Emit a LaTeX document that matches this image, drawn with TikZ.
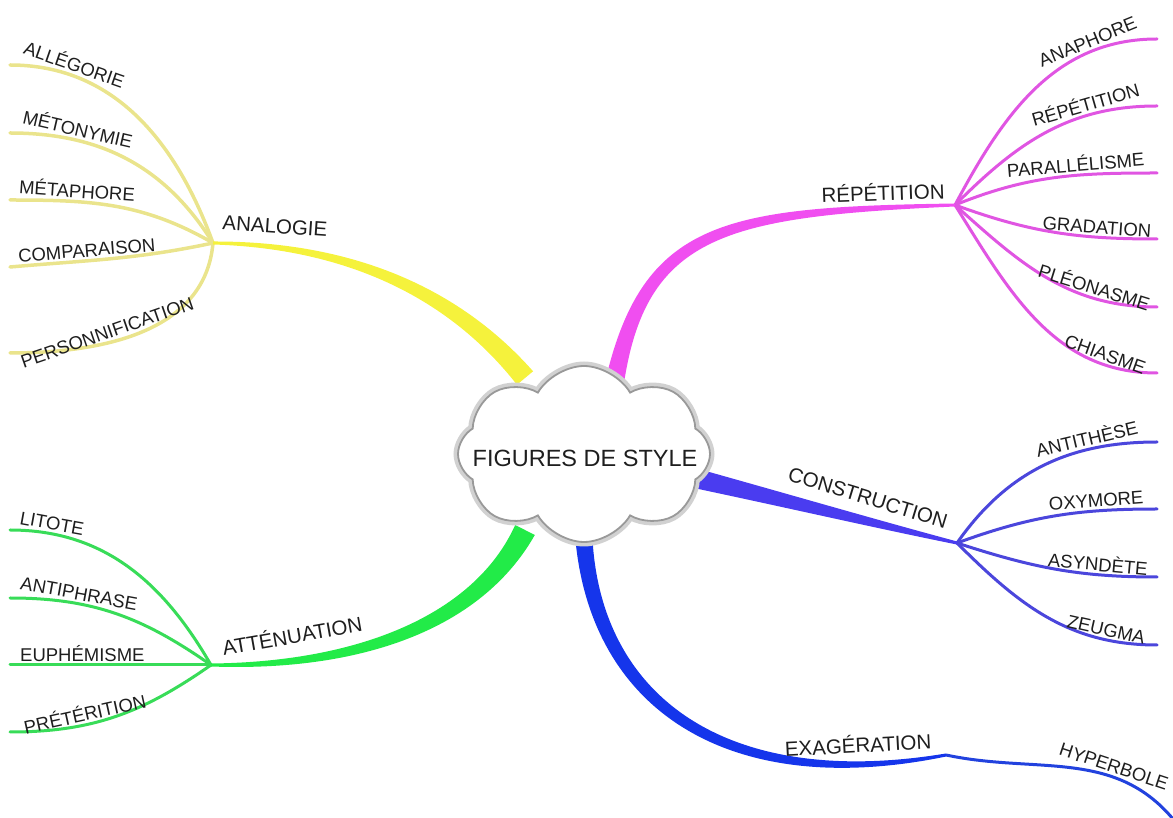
\documentclass[tikz,border=0pt]{standalone}
\usepackage{fontspec}
\setmainfont{Liberation Sans}
\usepackage{xcolor}
\usetikzlibrary{calc,shapes.symbols}

\definecolor{AnaYellow}{HTML}{F5F23C}
\definecolor{AnaLeaf}{HTML}{EAE48C}
\definecolor{RepMagenta}{HTML}{F04EF0}
\definecolor{RepLeaf}{HTML}{E055E2}
\definecolor{ConViolet}{HTML}{4A3CF0}
\definecolor{ConLeaf}{HTML}{4B46DC}
\definecolor{AttGreen}{HTML}{22EB48}
\definecolor{AttLeaf}{HTML}{38DC58}
\definecolor{ExaBlue}{HTML}{1535EB}
\definecolor{ExaLeaf}{HTML}{2242DE}
\definecolor{Ink}{HTML}{1E1E1E}

\begin{document}
\begin{tikzpicture}[x=1pt, y=1pt, line cap=round,
      every node/.append style={text=Ink, inner sep=2pt},
      leaf/.style={line width=3pt},
      word/.style={above, sloped, font=\fontsize{18.5}{18.5}\selectfont},
      branchword/.style={font=\fontsize{20.5}{20.5}\selectfont}]
  \useasboundingbox (0,0) rectangle (1173,817);

  % hubs and branch controls
  \coordinate (analogie) at (213,574);
  \coordinate (ana0) at (525,439); \coordinate (ana1) at (460,517); \coordinate (ana2) at (360,572);
  \coordinate (repetition) at (955,612);
  \coordinate (rep0) at (612,420); \coordinate (rep1) at (640,590); \coordinate (rep2) at (720,605);
  \coordinate (construction) at (957,274);
  \coordinate (con0) at (690,340); \coordinate (con1) at (780,318); \coordinate (con2) at (880,292);
  \coordinate (attenuation) at (211,152);
  \coordinate (att0) at (525,287); \coordinate (att1) at (478,195); \coordinate (att2) at (360,150);
  \coordinate (exageration) at (946,62);
  \coordinate (exa0) at (583,300); \coordinate (exa1) at (585,120); \coordinate (exa2) at (720,20);

  % leaves
  \coordinate (allegorie) at (10,752);
  \coordinate (metonymie) at (10,684);
  \coordinate (metaphore) at (10,617);
  \coordinate (comparaison) at (10,550);
  \coordinate (personnification) at (10,464);
  \draw[leaf, AnaLeaf, line width=3.5pt] (allegorie) to[out=0,in=110] node[word,pos=.21] (allegoriew) {ALLÉGORIE} (analogie);
  \draw[leaf, AnaLeaf, line width=3.5pt] (metonymie) to[out=0,in=122] node[word,pos=.26] (metonymiew) {MÉTONYMIE} (analogie);
  \draw[leaf, AnaLeaf, line width=3.5pt] (metaphore) to[out=0,in=150] node[word,pos=.3] (metaphorew) {MÉTAPHORE} (analogie);
  \draw[leaf, AnaLeaf, line width=3.5pt] (comparaison) to[out=5,in=192] node[word,pos=.37] (comparaisonw) {COMPARAISON} (analogie);
  \draw[leaf, AnaLeaf, line width=3.5pt] (personnification) to[out=0,in=-95] node[word,pos=.37,rotate=5] (personnificationw) {PERSONNIFICATION} (analogie);

  \coordinate (anaphore) at (1157,778);
  \coordinate (repetitionleaf) at (1157,711);
  \coordinate (parallelisme) at (1157,644);
  \coordinate (gradation) at (1157,578);
  \coordinate (pleonasme) at (1157,510);
  \coordinate (chiasme) at (1157,444);
  \draw[leaf, RepLeaf] (repetition) to[out=62,in=180] node[word,pos=.76] (anaphorew) {ANAPHORE} (anaphore);
  \draw[leaf, RepLeaf] (repetition) to[out=45,in=180] node[word,pos=.71] (repetitionleafw) {RÉPÉTITION} (repetitionleaf);
  \draw[leaf, RepLeaf] (repetition) to[out=22,in=180] node[word,pos=.62] (parallelismew) {PARALLÉLISME} (parallelisme);
  \draw[leaf, RepLeaf] (repetition) to[out=-20,in=180] node[word,pos=.72] (gradationw) {GRADATION} (gradation);
  \draw[leaf, RepLeaf] (repetition) to[out=-42,in=180] node[word,pos=.72] (pleonasmew) {PLÉONASME} (pleonasme);
  \draw[leaf, RepLeaf] (repetition) to[out=-58,in=180] node[word,pos=.8] (chiasmew) {CHIASME} (chiasme);

  \coordinate (antithese) at (1157,375);
  \coordinate (oxymore) at (1157,308);
  \coordinate (asyndete) at (1157,240);
  \coordinate (zeugma) at (1157,172);
  \draw[leaf, ConLeaf] (construction) to[out=55,in=180] node[word,pos=.72] (antithesew) {ANTITHÈSE} (antithese);
  \draw[leaf, ConLeaf] (construction) to[out=20,in=180] node[word,pos=.72] (oxymorew) {OXYMORE} (oxymore);
  \draw[leaf, ConLeaf] (construction) to[out=-18,in=180] node[word,pos=.72] (asyndetew) {ASYNDÈTE} (asyndete);
  \draw[leaf, ConLeaf] (construction) to[out=-45,in=180] node[word,pos=.78] (zeugmaw) {ZEUGMA} (zeugma);

  \coordinate (litote) at (10,287);
  \coordinate (antiphrase) at (10,219);
  \coordinate (euphemisme) at (10,152);
  \coordinate (preterition) at (10,85);
  \draw[leaf, AttLeaf] (litote) to[out=0,in=120] node[word,pos=.15] (litotew) {LITOTE} (attenuation);
  \draw[leaf, AttLeaf] (antiphrase) to[out=0,in=145] node[word,pos=.3] (antiphrasew) {ANTIPHRASE} (attenuation);
  \draw[leaf, AttLeaf] (euphemisme) -- node[word,pos=.36] (euphemismew) {EUPHÉMISME} (attenuation);
  \draw[leaf, AttLeaf] (preterition) to[out=0,in=215] node[word,pos=.35] (preteritionw) {PRÉTÉRITION} (attenuation);

  \coordinate (hyperbole) at (1173,-2);
  \draw[leaf, ExaLeaf] (exageration) to[out=-12,in=130] node[word,pos=.68] (hyperbolew) {HYPERBOLE} (hyperbole);

  % tapered main branches
  \fill[AnaYellow] ($(ana0)!10.5pt!90:(ana1)$) .. controls ($(ana1)!8pt!90:(ana2)$) and ($(ana2)!4pt!90:(analogie)$) .. ($(analogie)!1.5pt!-90:(ana2)$)
    -- ($(analogie)!1.5pt!90:(ana2)$) .. controls ($(ana2)!4pt!-90:(analogie)$) and ($(ana1)!8pt!-90:(ana2)$) .. ($(ana0)!10.5pt!-90:(ana1)$) -- cycle;
  \fill[RepMagenta] ($(rep0)!10pt!90:(rep1)$) .. controls ($(rep1)!8pt!90:(rep2)$) and ($(rep2)!5pt!90:(repetition)$) .. ($(repetition)!1.5pt!-90:(rep2)$)
    -- ($(repetition)!1.5pt!90:(rep2)$) .. controls ($(rep2)!5pt!-90:(repetition)$) and ($(rep1)!8pt!-90:(rep2)$) .. ($(rep0)!10pt!-90:(rep1)$) -- cycle;
  \fill[ConViolet] ($(con0)!10pt!90:(con1)$) .. controls ($(con1)!7pt!90:(con2)$) and ($(con2)!4pt!90:(construction)$) .. ($(construction)!1.5pt!-90:(con2)$)
    -- ($(construction)!1.5pt!90:(con2)$) .. controls ($(con2)!4pt!-90:(construction)$) and ($(con1)!7pt!-90:(con2)$) .. ($(con0)!10pt!-90:(con1)$) -- cycle;
  \fill[AttGreen] ($(att0)!11pt!90:(att1)$) .. controls ($(att1)!8.5pt!90:(att2)$) and ($(att2)!5pt!90:(attenuation)$) .. ($(attenuation)!1.5pt!-90:(att2)$)
    -- ($(attenuation)!1.5pt!90:(att2)$) .. controls ($(att2)!5pt!-90:(attenuation)$) and ($(att1)!8.5pt!-90:(att2)$) .. ($(att0)!11pt!-90:(att1)$) -- cycle;
  \fill[ExaBlue] ($(exa0)!9pt!90:(exa1)$) .. controls ($(exa1)!8.5pt!90:(exa2)$) and ($(exa2)!6pt!90:(exageration)$) .. ($(exageration)!1.5pt!-90:(exa2)$)
    -- ($(exageration)!1.5pt!90:(exa2)$) .. controls ($(exa2)!6pt!-90:(exageration)$) and ($(exa1)!8.5pt!-90:(exa2)$) .. ($(exa0)!9pt!-90:(exa1)$) -- cycle;

  % branch words
  \node[branchword, rotate=-4] (analogiew) at (275,591) {ANALOGIE};
  \node[branchword, rotate=2] (repetitionw) at (883,625) {RÉPÉTITION};
  \node[branchword, rotate=-17] (constructionw) at (868,319) {CONSTRUCTION};
  \node[branchword, rotate=10] (attenuationw) at (292,182) {ATTÉNUATION};
  \node[branchword, rotate=3] (exagerationw) at (858,73) {EXAGÉRATION};

  % the cloud
  \node[cloud, cloud puffs=8, cloud puff arc=120, aspect=1.5, minimum width=252pt, minimum height=176pt,
        inner sep=0pt, fill=white, draw=gray!80, line width=1.8pt,
        preaction={draw=black!18, line width=9pt}] (figures) at (584,363) {};
  \node[font=\fontsize{23.5}{23.5}\selectfont] (figurestitle) at (585,359) {FIGURES DE STYLE};
\end{tikzpicture}
\end{document}
